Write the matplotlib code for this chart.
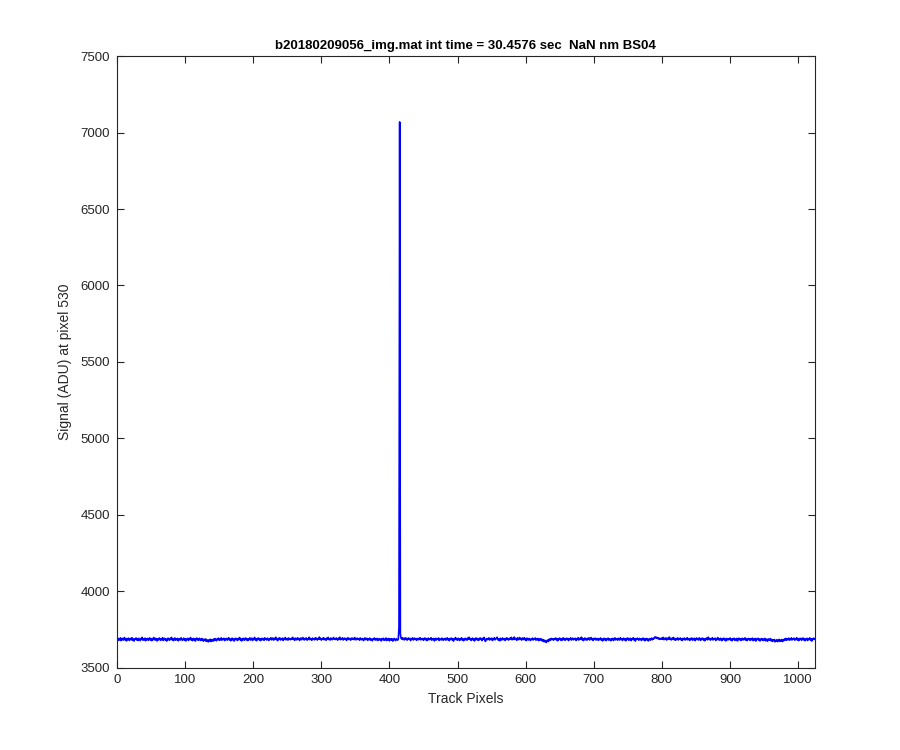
import numpy as np
import matplotlib
matplotlib.use("Agg")
from matplotlib import pyplot as plt

# signal along the track (ADU), one value per track pixel
signal = [
    3690, 3678, 3688, 3681, 3694, 3676, 3686, 3691, 3679, 3684, 3696, 3680, 3687, 3674, 3689, 3683,
    3692, 3677, 3685, 3690, 3681, 3695, 3679, 3686, 3673, 3688, 3684, 3693, 3680, 3687, 3677, 3691,
    3683, 3676, 3689, 3684, 3697, 3679, 3686, 3681, 3692, 3675, 3688, 3683, 3690, 3678, 3685, 3694,
    3680, 3687, 3676, 3689, 3682, 3696, 3684, 3679, 3691, 3686, 3674, 3688, 3681, 3693, 3685, 3678,
    3689, 3682, 3695, 3677, 3686, 3691, 3680, 3687, 3673, 3685, 3692, 3683, 3678, 3690, 3684, 3697,
    3681, 3688, 3676, 3686, 3693, 3679, 3687, 3682, 3690, 3675, 3684, 3689, 3680, 3694, 3686, 3678,
    3685, 3692, 3679, 3688, 3674, 3686, 3683, 3691, 3677, 3689, 3684, 3696, 3680, 3687, 3676, 3690,
    3682, 3688, 3673, 3685, 3693, 3681, 3686, 3678, 3691, 3684, 3677, 3689, 3680, 3686, 3672, 3684,
    3679, 3687, 3671, 3682, 3676, 3668, 3681, 3674, 3685, 3670, 3678, 3683, 3672, 3686, 3677, 3689,
    3680, 3675, 3688, 3683, 3692, 3678, 3686, 3681, 3694, 3679, 3687, 3684, 3691, 3676, 3688, 3683,
    3690, 3679, 3686, 3695, 3681, 3688, 3675, 3684, 3692, 3680, 3687, 3673, 3686, 3691, 3682, 3688,
    3677, 3690, 3684, 3696, 3680, 3686, 3674, 3689, 3683, 3691, 3678, 3685, 3693, 3681, 3687, 3676,
    3688, 3683, 3694, 3680, 3686, 3692, 3677, 3689, 3684, 3697, 3681, 3687, 3675, 3690, 3685, 3693,
    3680, 3688, 3676, 3686, 3691, 3682, 3689, 3678, 3694, 3684, 3687, 3680, 3692, 3685, 3677, 3689,
    3684, 3695, 3681, 3688, 3693, 3679, 3690, 3685, 3698, 3682, 3687, 3676, 3691, 3686, 3694, 3680,
    3688, 3683, 3692, 3677, 3689, 3685, 3696, 3681, 3687, 3690, 3679, 3693, 3684, 3688, 3682, 3691,
    3686, 3697, 3683, 3689, 3678, 3692, 3687, 3681, 3694, 3685, 3690, 3677, 3688, 3693, 3682, 3689,
    3696, 3684, 3680, 3691, 3686, 3693, 3679, 3688, 3684, 3698, 3682, 3690, 3686, 3678, 3692, 3685,
    3689, 3681, 3694, 3687, 3692, 3680, 3688, 3684, 3699, 3686, 3691, 3679, 3689, 3685, 3695, 3682,
    3690, 3687, 3678, 3692, 3686, 3697, 3683, 3689, 3680, 3693, 3687, 3682, 3690, 3696, 3684, 3688,
    3683, 3693, 3687, 3679, 3691, 3686, 3698, 3682, 3689, 3685, 3694, 3680, 3688, 3692, 3684, 3690,
    3677, 3689, 3695, 3683, 3687, 3691, 3679, 3688, 3693, 3685, 3690, 3682, 3696, 3686, 3681, 3689,
    3692, 3684, 3688, 3679, 3693, 3686, 3681, 3690, 3685, 3676, 3688, 3694, 3682, 3687, 3691, 3678,
    3686, 3683, 3692, 3679, 3687, 3684, 3675, 3689, 3685, 3693, 3680, 3686, 3681, 3690, 3677, 3684,
    3689, 3680, 3686, 3674, 3688, 3683, 3691, 3678, 3685, 3681, 3693, 3677, 3686, 3682, 3690, 3675,
    3684, 3688, 3679, 3687, 3673, 3685, 3690, 3681, 3676, 3688, 3683, 3679, 3686, 3760, 7070, 3720,
    3692, 3686, 3695, 3683, 3690, 3681, 3694, 3687, 3691, 3679, 3688, 3693, 3684, 3690, 3676, 3689,
    3685, 3694, 3680, 3687, 3692, 3683, 3689, 3678, 3686, 3691, 3682, 3688, 3695, 3681, 3687, 3684,
    3690, 3678, 3687, 3693, 3682, 3689, 3676, 3686, 3692, 3681, 3688, 3684, 3695, 3679, 3687, 3683,
    3690, 3674, 3686, 3691, 3680, 3688, 3685, 3693, 3677, 3689, 3684, 3680, 3692, 3686, 3678, 3688,
    3683, 3691, 3679, 3687, 3694, 3681, 3688, 3676, 3690, 3685, 3692, 3680, 3686, 3673, 3689, 3684,
    3696, 3682, 3688, 3679, 3691, 3685, 3677, 3689, 3683, 3694, 3680, 3687, 3675, 3686, 3691, 3682,
    3688, 3679, 3693, 3685, 3698, 3683, 3689, 3677, 3686, 3692, 3680, 3688, 3674, 3687, 3693, 3683,
    3690, 3678, 3686, 3681, 3694, 3684, 3689, 3676, 3691, 3686, 3697, 3679, 3671, 3685, 3690, 3682,
    3687, 3694, 3680, 3689, 3684, 3692, 3677, 3688, 3683, 3695, 3681, 3687, 3690, 3698, 3684, 3679,
    3688, 3675, 3691, 3685, 3680, 3693, 3686, 3682, 3689, 3677, 3687, 3694, 3683, 3690, 3680, 3688,
    3692, 3685, 3697, 3681, 3690, 3686, 3699, 3683, 3691, 3688, 3678, 3694, 3687, 3682, 3696, 3685,
    3690, 3679, 3693, 3688, 3683, 3695, 3681, 3689, 3676, 3692, 3686, 3680, 3690, 3684, 3677, 3688,
    3683, 3692, 3680, 3688, 3685, 3693, 3679, 3687, 3682, 3690, 3676, 3686, 3681, 3689, 3677, 3684,
    3673, 3681, 3668, 3678, 3674, 3664, 3672, 3679, 3670, 3684, 3676, 3688, 3681, 3690, 3683, 3687,
    3679, 3689, 3685, 3693, 3681, 3687, 3675, 3690, 3684, 3692, 3680, 3688, 3677, 3686, 3694, 3682,
    3689, 3678, 3687, 3691, 3683, 3690, 3676, 3688, 3685, 3694, 3680, 3686, 3692, 3681, 3689, 3684,
    3691, 3677, 3688, 3683, 3695, 3680, 3687, 3692, 3684, 3698, 3681, 3689, 3676, 3687, 3693, 3682,
    3688, 3679, 3691, 3685, 3694, 3680, 3688, 3696, 3683, 3689, 3677, 3690, 3684, 3692, 3680, 3687,
    3682, 3690, 3678, 3688, 3684, 3693, 3679, 3687, 3674, 3686, 3691, 3681, 3689, 3676, 3686, 3683,
    3692, 3679, 3688, 3684, 3675, 3689, 3682, 3690, 3677, 3686, 3694, 3681, 3688, 3685, 3679, 3691,
    3686, 3680, 3694, 3684, 3689, 3677, 3688, 3692, 3681, 3687, 3675, 3690, 3685, 3693, 3679, 3686,
    3682, 3691, 3676, 3688, 3684, 3695, 3680, 3687, 3673, 3689, 3684, 3692, 3686, 3679, 3690, 3683,
    3688, 3677, 3686, 3692, 3681, 3689, 3675, 3685, 3690, 3680, 3687, 3674, 3684, 3689, 3679, 3686,
    3692, 3682, 3690, 3687, 3696, 3700, 3693, 3698, 3690, 3695, 3687, 3692, 3684, 3690, 3686, 3693,
    3685, 3697, 3682, 3690, 3686, 3694, 3680, 3688, 3693, 3685, 3699, 3683, 3689, 3681, 3692, 3687,
    3696, 3682, 3690, 3678, 3688, 3684, 3694, 3680, 3689, 3686, 3693, 3681, 3688, 3677, 3690, 3685,
    3692, 3680, 3688, 3683, 3695, 3681, 3689, 3686, 3677, 3690, 3684, 3693, 3679, 3688, 3682, 3691,
    3676, 3687, 3693, 3683, 3689, 3680, 3694, 3685, 3678, 3690, 3684, 3692, 3680, 3687, 3675, 3689,
    3684, 3694, 3681, 3698, 3686, 3690, 3679, 3688, 3684, 3695, 3680, 3689, 3685, 3692, 3677, 3687,
    3683, 3696, 3682, 3688, 3679, 3691, 3685, 3676, 3689, 3683, 3692, 3680, 3686, 3674, 3690, 3684,
    3680, 3688, 3684, 3693, 3679, 3686, 3675, 3689, 3683, 3691, 3678, 3686, 3681, 3690, 3674, 3687,
    3692, 3682, 3688, 3677, 3685, 3691, 3680, 3687, 3683, 3694, 3679, 3688, 3676, 3686, 3690, 3681,
    3687, 3678, 3689, 3683, 3692, 3676, 3685, 3681, 3690, 3673, 3686, 3684, 3691, 3679, 3687, 3674,
    3685, 3689, 3680, 3688, 3677, 3684, 3690, 3675, 3686, 3681, 3672, 3687, 3682, 3678, 3689, 3676,
    3684, 3671, 3680, 3675, 3683, 3668, 3678, 3673, 3682, 3669, 3677, 3684, 3671, 3679, 3674, 3683,
    3670, 3681, 3676, 3687, 3680, 3690, 3678, 3686, 3683, 3692, 3679, 3687, 3682, 3694, 3680, 3688,
    3685, 3692, 3679, 3688, 3683, 3695, 3680, 3687, 3676, 3690, 3684, 3691, 3678, 3686, 3693, 3681,
    3689, 3675, 3686, 3682, 3691, 3677, 3688, 3684, 3694, 3680, 3687, 3673, 3689, 3683, 3692, 3685,
]

title = "b20180209056_img.mat int time = 30.4576 sec  NaN nm BS04"
x_ticks = [0, 100, 200, 300, 400, 500, 600, 700, 800, 900, 1000]
y_ticks = [3500, 4000, 4500, 5000, 5500, 6000, 6500, 7000, 7500]

plt.rcParams['font.family'] = ['Liberation Sans', 'DejaVu Sans']
axis_grey = '#262626'

pixels = np.arange(1, len(signal) + 1)

fig = plt.figure(figsize=(9, 7.5), dpi=100)
ax = fig.add_axes([0.13, 0.11, 0.775, 0.815])
ax.plot(pixels, signal, color='#0000ff', linewidth=1.2)

ax.set_xlim(0, 1024)
ax.set_ylim(3500, 7500)
ax.set_xticks(x_ticks)
ax.set_yticks(y_ticks)
ax.tick_params(direction='in', length=5, width=0.8, top=True, right=True,
               labelsize=9.5, colors=axis_grey, pad=5)
for side in ax.spines.values():
    side.set_color(axis_grey)
    side.set_linewidth(0.8)

ax.set_title(title, fontsize=9.5, fontweight='bold', color='black', pad=5)
ax.set_xlabel("Track Pixels", fontsize=10, color=axis_grey, labelpad=4)
ax.set_ylabel("Signal (ADU) at pixel 530", fontsize=10, color=axis_grey, labelpad=6)

fig.savefig("out.png", dpi=100, facecolor='white')
